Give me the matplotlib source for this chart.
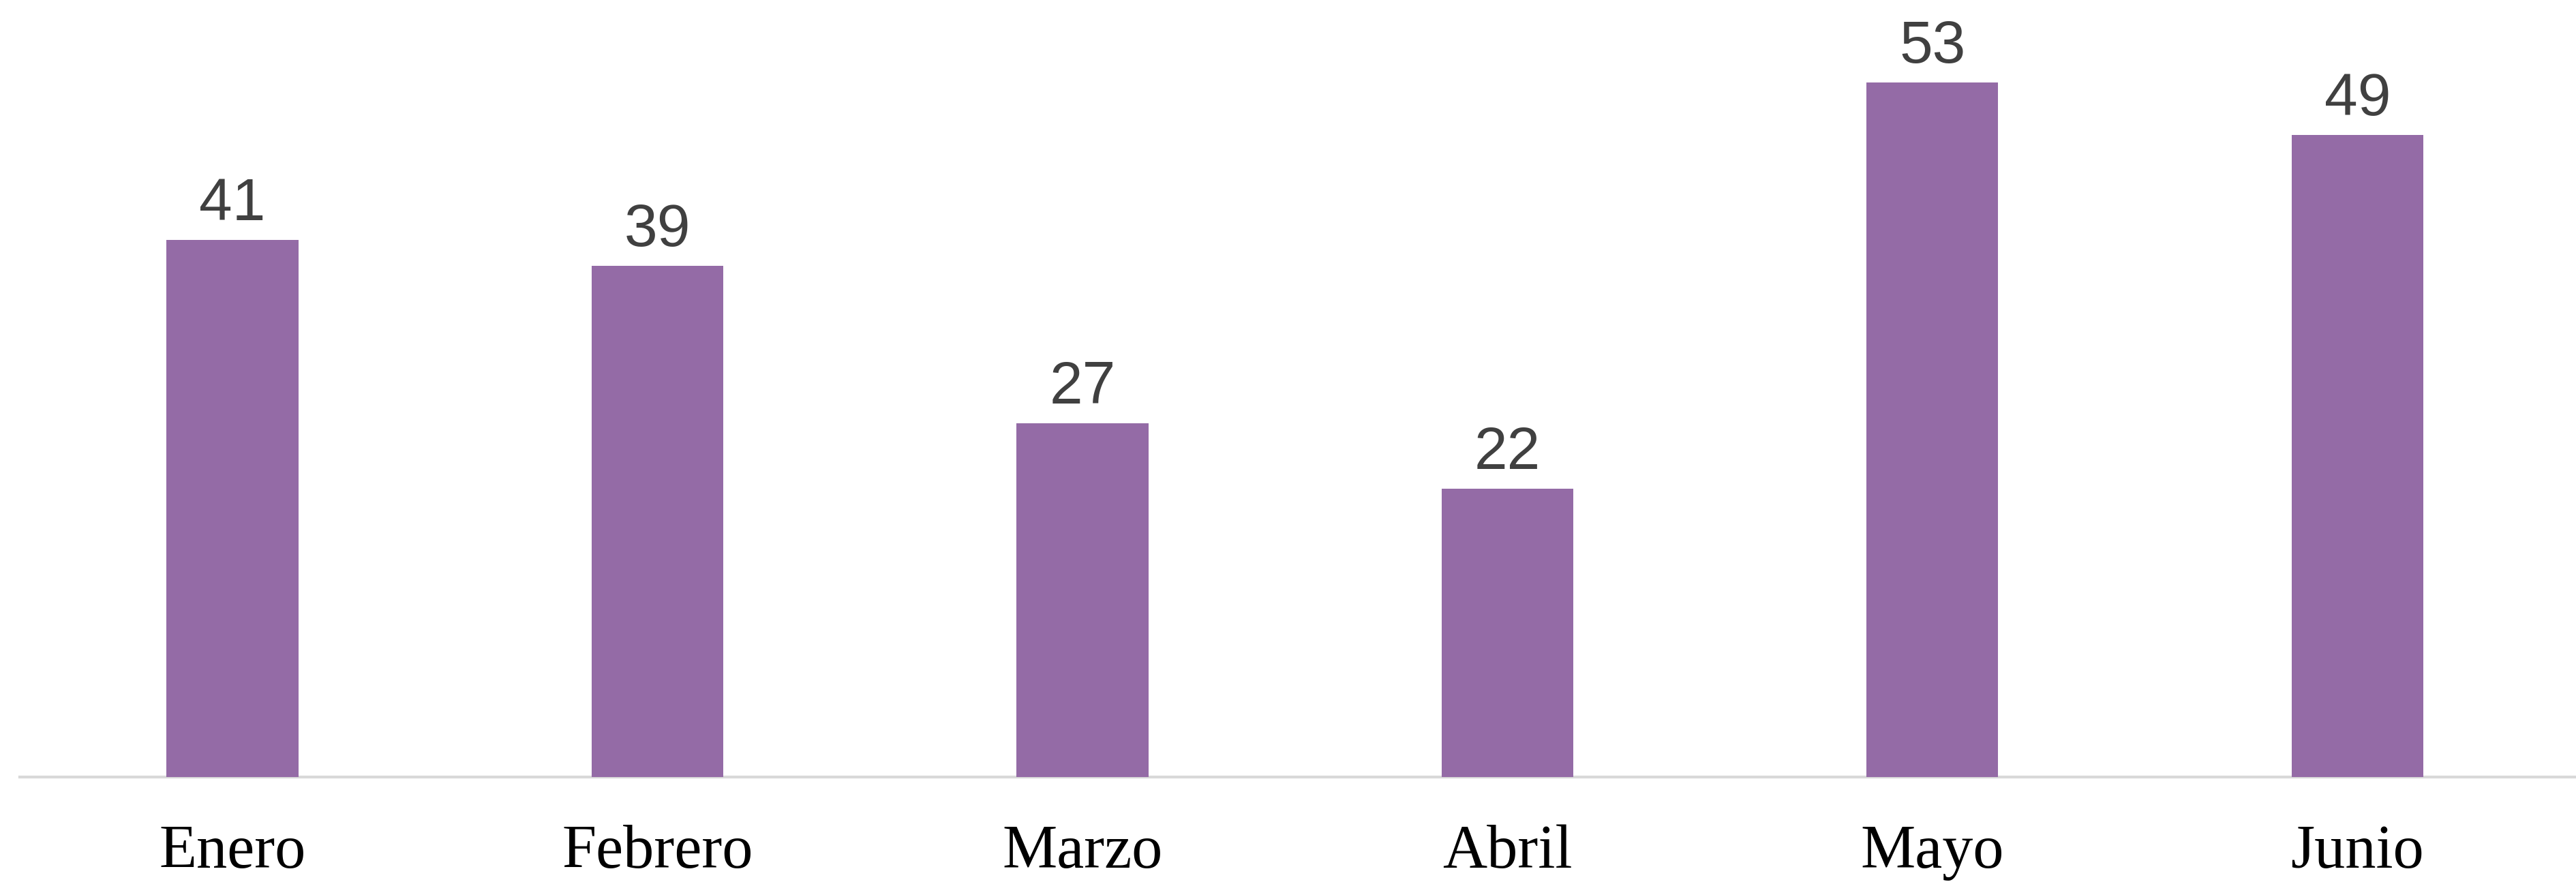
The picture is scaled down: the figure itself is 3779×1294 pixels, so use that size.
import matplotlib
matplotlib.use("Agg")
import matplotlib.pyplot as plt
import numpy as np

months = ["Enero", "Febrero", "Marzo", "Abril", "Mayo", "Junio"]
values = [41, 39, 27, 22, 53, 49]

BAR_COLOR = "#946ba6"
LABEL_COLOR = "#404040"

fig = plt.figure(figsize=(37.8, 12.94), dpi=100)
ax = fig.add_axes([0, 0, 1, 1])

xs = np.arange(len(months))
bars = ax.bar(xs, values, width=0.31, color=BAR_COLOR, zorder=2)

# value labels sit ~29px above each bar
for b, v in zip(bars, values):
    ax.annotate(str(v), (b.get_x() + b.get_width() / 2, v), xytext=(0, 21),
                textcoords="offset points", ha="center", va="baseline",
                fontsize=63, color=LABEL_COLOR, family="Liberation Sans")

for x, m in zip(xs, months):
    ax.text(x, -6.91, m, ha="center", va="baseline", fontsize=65,
            color="black", family="Liberation Serif")

# baseline
ax.plot([-0.5, 5.6], [0, 0], color="#d9d9d9", lw=3, zorder=1)

ax.set_xlim(-0.547, 5.516)
ax.set_ylim(-8.0, 59.3)
ax.axis("off")

plt.savefig("out.png", dpi=100, facecolor="white")
plt.close()
